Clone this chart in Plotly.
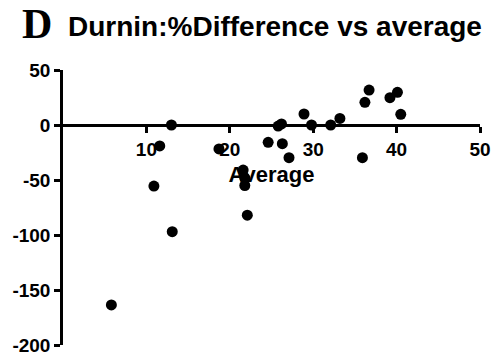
import plotly.graph_objects as go

# Durnin method: average of the two measurements vs. % difference between them
average = [5.8, 10.9, 11.6, 13.0, 13.1, 18.7, 21.6, 21.8, 21.8, 22.1,
           24.6, 25.8, 26.2, 26.3, 27.1, 28.9, 29.8, 32.1, 33.2, 35.9,
           36.2, 36.7, 39.2, 40.1, 40.5]
pct_difference = [-163.6, -55.5, -19.0, 0.0, -97.0, -21.8, -41.0, -48.0, -55.0, -82.0,
                  -15.7, -1.0, 1.0, -17.0, -29.7, 10.0, 0.0, 0.0, 6.0, -29.7,
                  20.6, 31.8, 24.8, 29.7, 9.7]

x_ticks = [10, 20, 30, 40, 50]
x_tick_labels = ["10", "20", "30", "40", "50"]
y_ticks = [-200, -150, -100, -50, 0, 50]
y_tick_labels = ["-200", "-150", "-100", "-50", "0", "50"]

X_RANGE = [0, 50]
Y_RANGE = [-200, 50]

tick_font = dict(family="Liberation Sans, Arial, sans-serif", size=19,
                 color="black", weight="bold")

fig = go.Figure(
    go.Scatter(
        x=average, y=pct_difference, mode="markers",
        marker=dict(color="black", size=11, line=dict(width=0)),
        showlegend=False,
    )
)

# x axis crosses the y axis at zero
zero_pos = (0 - Y_RANGE[0]) / (Y_RANGE[1] - Y_RANGE[0])

fig.update_layout(
    width=500, height=358,
    margin=dict(l=63, r=20, t=70, b=13),
    paper_bgcolor="white", plot_bgcolor="white",
    xaxis=dict(
        range=X_RANGE, anchor="free", position=zero_pos, automargin=False,
        showline=True, linecolor="black", linewidth=2.5,
        ticks="outside", ticklen=6, tickwidth=2.5, tickcolor="black",
        tickvals=x_ticks, ticktext=x_tick_labels, tickfont=tick_font,
        showgrid=False, zeroline=False,
        title=dict(text="Average", standoff=8,
                   font=dict(family="Liberation Sans, Arial, sans-serif",
                             size=22, color="black", weight="bold")),
    ),
    yaxis=dict(
        range=Y_RANGE, automargin=False,
        showline=True, linecolor="black", linewidth=2.5,
        ticks="outside", ticklen=6, tickwidth=2.5, tickcolor="black",
        tickvals=y_ticks, ticktext=y_tick_labels, tickfont=tick_font,
        showgrid=False, zeroline=False,
    ),
    annotations=[
        dict(text="<b>D</b>", xref="paper", yref="paper",
             x=-42 / 417, y=(345 - 24) / 275, xanchor="left", yanchor="middle",
             showarrow=False, borderpad=0,
             font=dict(family="Liberation Serif, Times New Roman, serif",
                       size=42, color="black")),
        dict(text="<b>Durnin:%Difference vs average</b>", xref="paper", yref="paper",
             x=(66 - 63) / 417, y=(345 - 26) / 275, xanchor="left", yanchor="middle",
             showarrow=False,
             font=dict(family="Liberation Sans, Arial, sans-serif",
                       size=28, color="black")),
    ],
)

fig.write_html("out.html")
